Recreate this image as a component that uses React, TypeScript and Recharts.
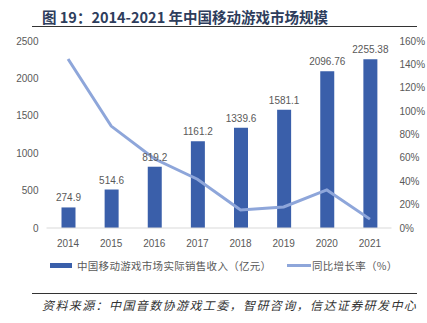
import { Bar, ComposedChart, LabelList, Line, XAxis, YAxis } from "recharts";

const years = ["2014", "2015", "2016", "2017", "2018", "2019", "2020", "2021"];
const revenue = [274.9, 514.6, 819.2, 1161.2, 1339.6, 1581.1, 2096.76, 2255.38];
const growth = [1.446, 0.872, 0.592, 0.417, 0.154, 0.18, 0.326, 0.076];
const leftTicks = [0, 500, 1000, 1500, 2000, 2500];
const rightTicks = [0, 0.2, 0.4, 0.6, 0.8, 1.0, 1.2, 1.4, 1.6];

const data = years.map((year, i) => ({ year, revenue: revenue[i], growth: growth[i] }));

const BAR_COLOR = "#3A5FAA";
const LINE_COLOR = "#8EA6DA";
const TEXT = "#595959";
const CJK = "'Noto Sans CJK SC', sans-serif";
const LATIN = "'Liberation Sans', 'Noto Sans CJK SC', sans-serif";

const App = () => {
    return (
        <div style={{ position: "absolute", left: 0, top: 0, width: 427, height: 323, background: "#fff", fontFamily: CJK }}>
            <div style={{ position: "absolute", left: 42, top: 6, fontSize: 14.5, fontWeight: 700, color: "#2E3D5C", whiteSpace: "nowrap" }}>
                图 19：2014-2021 年中国移动游戏市场规模
            </div>
            <div style={{ position: "absolute", left: 32, top: 26, width: 385, height: 1, background: "#333" }} />

            <div style={{ position: "absolute", left: 0, top: 0 }}>
                <ComposedChart width={427} height={252} data={data} margin={{ top: 41, right: 0, left: 0, bottom: 0 }}>
                    <XAxis
                        dataKey="year"
                        height={24}
                        tickLine={false}
                        axisLine={{ stroke: "#D9D9D9" }}
                        tick={{ fontSize: 10, fill: TEXT, fontFamily: LATIN }}
                        tickMargin={6}
                        interval={0}
                    />
                    <YAxis
                        yAxisId="left"
                        width={46.5}
                        domain={[0, 2500]}
                        ticks={leftTicks}
                        tickLine={false}
                        axisLine={false}
                        tick={{ fontSize: 10, fill: TEXT, fontFamily: LATIN }}
                    />
                    <YAxis
                        yAxisId="right"
                        orientation="right"
                        width={35.5}
                        domain={[0, 1.6]}
                        ticks={rightTicks}
                        tickLine={false}
                        axisLine={false}
                        tickFormatter={(v) => `${Math.round(v * 100)}%`}
                        tick={{ fontSize: 10, fill: TEXT, fontFamily: LATIN, textAnchor: "start" }}
                    />
                    <Bar yAxisId="left" dataKey="revenue" fill={BAR_COLOR} barSize={14} isAnimationActive={false}>
                        <LabelList dataKey="revenue" position="top" offset={6} style={{ fontSize: 10, fill: TEXT, fontFamily: LATIN }} />
                    </Bar>
                    <Line
                        yAxisId="right"
                        dataKey="growth"
                        stroke={LINE_COLOR}
                        strokeWidth={3}
                        dot={false}
                        type="linear"
                        isAnimationActive={false}
                    />
                </ComposedChart>
            </div>

            <div style={{ position: "absolute", left: 50, top: 258, display: "flex", alignItems: "center", fontSize: 10.5, letterSpacing: 0.3, color: TEXT, whiteSpace: "nowrap" }}>
                <span style={{ display: "inline-block", width: 22, height: 5, background: BAR_COLOR, marginRight: 5 }} />
                中国移动游戏市场实际销售收入（亿元）
            </div>
            <div style={{ position: "absolute", left: 287, top: 258, display: "flex", alignItems: "center", fontSize: 10.5, letterSpacing: 0.3, color: TEXT, whiteSpace: "nowrap" }}>
                <span style={{ display: "inline-block", width: 24, height: 2.5, background: LINE_COLOR, marginRight: 1 }} />
                同比增长率（%）
            </div>

            <div style={{ position: "absolute", left: 32, top: 293, width: 385, height: 1, background: "#333" }} />
            <div style={{ position: "absolute", left: 42, top: 296, fontSize: 12, letterSpacing: 1.4, fontStyle: "italic", color: "#333", whiteSpace: "nowrap" }}>
                资料来源：中国音数协游戏工委，智研咨询，信达证券研发中心
            </div>
        </div>
    );
};

export default App;
